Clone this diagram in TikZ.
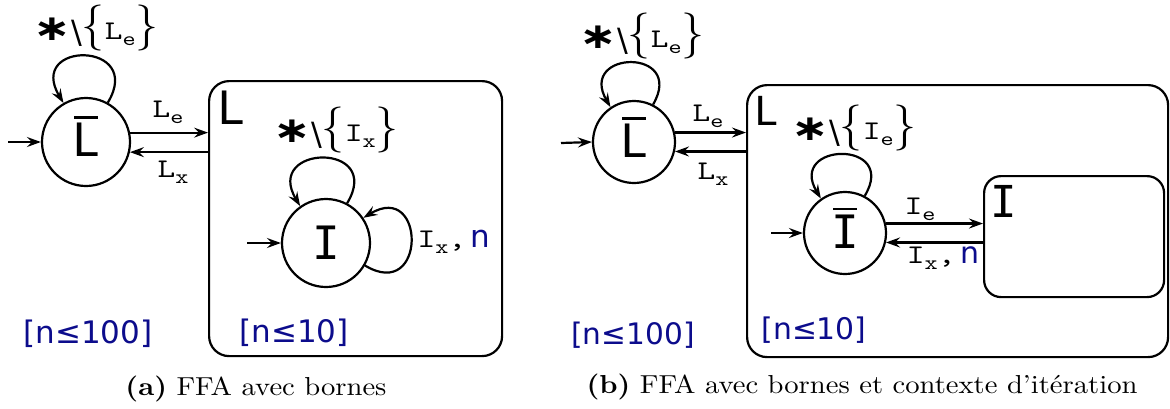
\documentclass[tikz,border=0pt]{standalone}
\usepackage{fontspec}
\usepackage{graphicx}
\usetikzlibrary{arrows.meta,calc}
\setmainfont{lmroman10-regular.otf}[BoldFont=lmroman10-bold.otf]
\setmonofont{lmmono10-regular.otf}
\newfontfamily\dvs{DejaVu Sans}
\newfontfamily\dvsm{DejaVu Sans Mono}
\definecolor{navy}{RGB}{12,12,140}
\newcommand\ovbar[1]{\setbox0\hbox{#1}\vbox{\offinterlineskip\hbox to\wd0{\hss\vrule width 0.85\wd0 height 2.8pt\hss}\kern 4.5pt\box0}}
\newcommand\tl[2]{\scalebox{1.25}[1]{\texttt{#1}\raisebox{-0.22em}{\scalebox{0.74}{\texttt{#2}}}}}
\newcommand\loopl[2]{{\dvs\bfseries\fontsize{30}{30}\selectfont\raisebox{-1pt}{\scalebox{1.5}[1.2]{∗}}}{\dvs\fontsize{32}{32}\selectfont\raisebox{-4pt}{\textbackslash}}{\fontsize{46}{46}\selectfont\{}\tl{#1}{#2}{\fontsize{46}{46}\selectfont\}}}
\begin{document}
\begin{tikzpicture}[x=1pt,y=1pt,
  lw/.style={line width=2.2pt},
  state/.style={circle,draw,lw,inner sep=0pt,minimum size=#1},
  state/.default=88pt,
  conn/.style={lw,-{Stealth[length=14pt,width=10pt,inset=5pt]}},
  box/.style={draw,lw,rounded corners=#1,anchor=north west,inner sep=0pt},
  box/.default=20pt,
  slbl/.style={font=\dvsm\fontsize{46}{46}\selectfont,inner sep=0pt},
  blbl/.style={font=\dvsm\fontsize{46}{46}\selectfont,inner sep=0pt},
  elbl/.style={font=\fontsize{27}{27}\selectfont,inner sep=0pt},
  bound/.style={text=navy,font=\dvs\fontsize{31}{31}\selectfont,inner sep=0pt},
  capt/.style={font=\fontsize{26}{26}\selectfont,inner sep=0pt}]
\useasboundingbox (0,0) rectangle (1170,-408);
% ---------- (a) ----------
\node[state] (La) at (86,-142) {};
\node[slbl] (La-t) at ([yshift=5.5pt]La.center) {\ovbar{L}};
\coordinate (La-in) at (8,-142);
\draw[conn] (La-in) -- (La.west);
\draw[conn] (La.61) .. controls +(59:72) and +(121:73) .. (La.120);
\node[elbl] (La-ll) at (96,-28) {\loopl{L}{e}};
\node[box,minimum width=293pt,minimum height=275pt] (LBa) at (208,-80) {};
\node[blbl] (LBa-t) at (231,-108) {L};
\draw[conn] (La.12) -- (La.12 -| LBa.west);
\draw[conn] (La.-13 -| LBa.west) -- (La.-13);
\node[elbl] (Le-a) at (168,-112) {\tl{L}{e}};
\node[elbl] (Lx-a) at (173,-172) {\tl{L}{x}};
\node[state] (Ia) at (326,-243) {};
\node[slbl] (Ia-t) at (Ia.center) {I};
\coordinate (Ia-in) at (247,-243);
\draw[conn] (Ia-in) -- (Ia.west);
\draw[conn] (Ia.62) .. controls +(59:72) and +(121:72) .. (Ia.125);
\node[elbl] (Ia-ll) at (336,-130) {\loopl{I}{x}};
\draw[conn] (Ia.-30) .. controls +(-31:72) and +(31:73) .. (Ia.34);
\node[elbl] (Ia-rl) at (454,-242) {\tl{I}{x}\scalebox{1.25}[1]{\texttt{,}}\,{\dvs\fontsize{31}{31}\selectfont\color{navy}n}};
\node[bound] (Ba1) at (88,-334) {[n≤100]};
\node[bound] (Ba2) at (294,-333) {[n≤10]};
\node[capt] (Ca) at (256,-389) {\scalebox{1.1}[1]{\textbf{(a)} FFA avec bornes}};
% ---------- (b) ----------
\node[state=82pt] (Lb) at (634,-142) {};
\node[slbl] (Lb-t) at ([yshift=4.5pt]Lb.center) {\ovbar{L}};
\coordinate (Lb-in) at (561,-143);
\draw[conn] (Lb-in) -- (Lb.west);
\draw[conn] (Lb.63) .. controls +(60:66) and +(120:66) .. (Lb.124);
\node[elbl] (Lb-ll) at (642,-36) {\loopl{L}{e}};
\node[box,minimum width=421pt,minimum height=272pt] (LBb) at (746,-84) {};
\node[blbl,font=\dvsm\fontsize{40}{40}\selectfont] (LBb-t) at (767,-111) {L};
\draw[conn] (Lb.13) -- (Lb.13 -| LBb.west);
\draw[conn] (Lb.-13 -| LBb.west) -- (Lb.-13);
\node[elbl] (Le-b) at (708,-116) {\tl{L}{e}};
\node[elbl] (Lx-b) at (713,-174) {\tl{L}{x}};
\node[state=82pt] (Ib) at (845,-233) {};
\node[slbl] (Ib-t) at ([yshift=5pt]Ib.center) {\ovbar{I}};
\coordinate (Ib-in) at (771,-233);
\draw[conn] (Ib-in) -- (Ib.west);
\draw[conn] (Ib.62) .. controls +(59:66) and +(121:66) .. (Ib.125);
\node[elbl] (Ib-ll) at (854,-128) {\loopl{I}{e}};
\node[box=17pt,minimum width=180pt,minimum height=121pt] (IBb) at (983,-175) {};
\node[blbl,font=\dvsm\fontsize{44}{44}\selectfont] (IBb-t) at (1004,-201) {I};
\draw[conn] (Ib.13) -- (Ib.13 -| IBb.west);
\draw[conn] (Ib.-13 -| IBb.west) -- (Ib.-13);
\node[elbl] (Ie-b) at (920,-209) {\tl{I}{e}};
\node[elbl] (Ix-b) at (943,-258) {\tl{I}{x}\scalebox{1.25}[1]{\texttt{,}}\,{\dvs\fontsize{30}{30}\selectfont\color{navy}n}};
\node[bound,font=\dvs\fontsize{29.6}{29.6}\selectfont] (Bb1) at (633,-335) {[n≤100]};
\node[bound,font=\dvs\fontsize{29.8}{29.8}\selectfont] (Bb2) at (814,-330) {[n≤10]};
\node[capt] (Cb) at (862,-387) {\scalebox{1.1}[1]{\textbf{(b)} FFA avec bornes et contexte d’itération}};
\end{tikzpicture}
\end{document}
